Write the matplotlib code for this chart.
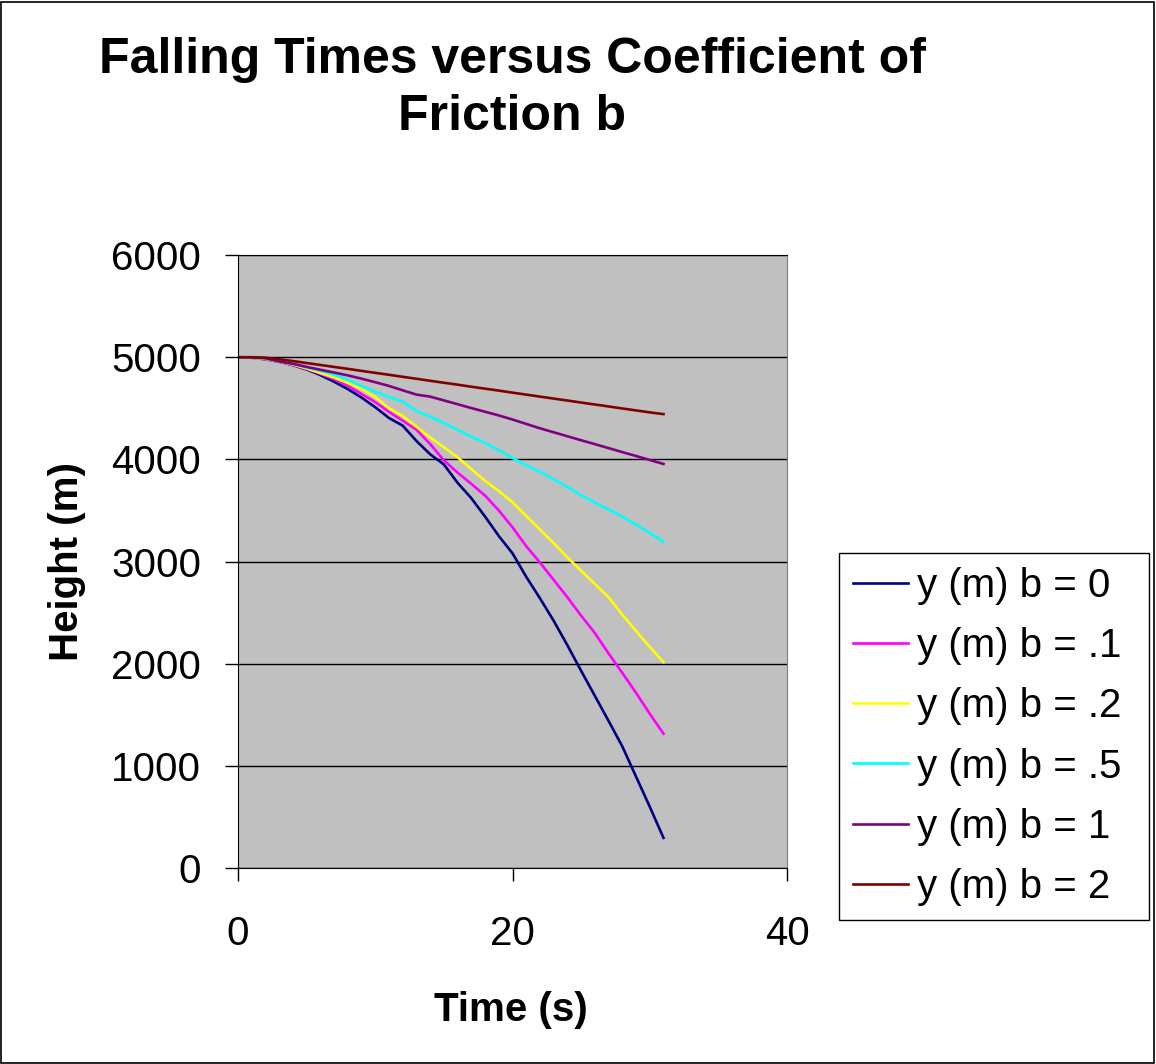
import matplotlib
matplotlib.use("Agg")
import matplotlib.pyplot as plt
from matplotlib.patches import Rectangle

plt.rcParams['font.family'] = ['Liberation Sans', 'DejaVu Sans']

time_s = list(range(32))

y_b0 = [5000, 4995, 4980, 4956, 4922, 4880, 4825, 4760, 4688, 4605, 4510, 4405,
        4330, 4180, 4050, 3950, 3770, 3620, 3440, 3250, 3080, 2850, 2640, 2420,
        2180, 1930, 1685, 1440, 1190, 895, 600, 295]
y_b01 = [5000, 4995, 4982, 4957, 4925, 4885, 4837, 4785, 4720, 4640, 4560, 4465,
         4378, 4290, 4150, 3990, 3870, 3760, 3645, 3500, 3335, 3150, 2990, 2820,
         2650, 2470, 2300, 2100, 1910, 1715, 1510, 1315]
y_b02 = [5000, 4995, 4984, 4958, 4928, 4890, 4845, 4800, 4748, 4690, 4610, 4500,
         4425, 4320, 4215, 4118, 4020, 3905, 3790, 3690, 3580, 3445, 3313, 3180,
         3040, 2910, 2780, 2650, 2480, 2320, 2165, 2015]
y_b05 = [5000, 4996, 4986, 4960, 4935, 4900, 4866, 4831, 4778, 4717, 4660, 4612,
         4565, 4474, 4420, 4355, 4290, 4222, 4160, 4090, 4014, 3942, 3879, 3805,
         3730, 3650, 3577, 3510, 3440, 3360, 3280, 3193]
y_b1 = [5000, 4998, 4990, 4958, 4935, 4905, 4877, 4850, 4822, 4790, 4755, 4719,
        4676, 4634, 4614, 4577, 4540, 4502, 4466, 4430, 4390, 4347, 4304, 4265,
        4226, 4187, 4149, 4110, 4071, 4033, 3994, 3955]
y_b2 = [5000, 5000, 4995, 4980, 4962, 4943, 4924, 4905, 4886, 4866, 4847, 4828,
        4808, 4789, 4769, 4750, 4731, 4711, 4692, 4673, 4653, 4634, 4614, 4595,
        4576, 4556, 4537, 4518, 4498, 4479, 4460, 4443]

labels = ["y (m) b = 0", "y (m) b = .1", "y (m) b = .2",
          "y (m) b = .5", "y (m) b = 1", "y (m) b = 2"]
colors = ["#000080", "#FF00FF", "#FFFF00", "#00FFFF", "#800080", "#800000"]


def main():
    fig = plt.figure(figsize=(11.56, 10.64), dpi=100)
    fig.patches.append(Rectangle((0.0005, 0.0005), 0.998, 0.998, transform=fig.transFigure,
                                 fill=False, edgecolor='black', linewidth=1.2))

    ax = fig.add_axes([0.2059, 0.1842, 0.4749, 0.5761])
    ax.set_facecolor('#C0C0C0')

    series = [y_b0, y_b01, y_b02, y_b05, y_b1, y_b2]
    for ys, lab, col in zip(series, labels, colors):
        ax.plot(time_s, ys, color=col, linewidth=1.9, label=lab)

    ax.set_xlim(0, 40)
    ax.set_ylim(0, 6000)
    ax.set_xticks([0, 20, 40])
    ax.set_yticks(range(0, 6001, 1000))
    ax.yaxis.grid(True, color='black', linewidth=1.0)
    ax.set_axisbelow(True)

    for side in ['left', 'bottom', 'top']:
        ax.spines[side].set_color('black')
    ax.spines['right'].set_color('#808080')
    ax.tick_params(axis='both', direction='out', length=9.5, width=1.0,
                   labelsize=29, color='black')
    ax.tick_params(axis='y', pad=17)
    ax.tick_params(axis='x', pad=24)

    fig.text(0.443, 0.917, "Falling Times versus Coefficient of\nFriction b",
             ha='center', va='center', fontsize=36, fontweight='bold',
             linespacing=1.3)
    fig.text(0.442, 0.051, "Time (s)", ha='center', va='center',
             fontsize=29, fontweight='bold')
    fig.text(0.058, 0.472, "Height (m)", ha='center', va='center',
             rotation=90, fontsize=29, fontweight='bold')

    leg = fig.legend(loc='upper left', bbox_to_anchor=(0.7258, 0.1344, 0.268, 0.3459),
                     mode='expand', fontsize=29, frameon=True, fancybox=False,
                     framealpha=1, edgecolor='black', borderaxespad=0,
                     borderpad=0.35, handlelength=1.37, handletextpad=0.22,
                     labelspacing=0.55)
    leg.get_frame().set_linewidth(1.0)

    fig.savefig("out.png", dpi=100)


if __name__ == '__main__':
    main()
